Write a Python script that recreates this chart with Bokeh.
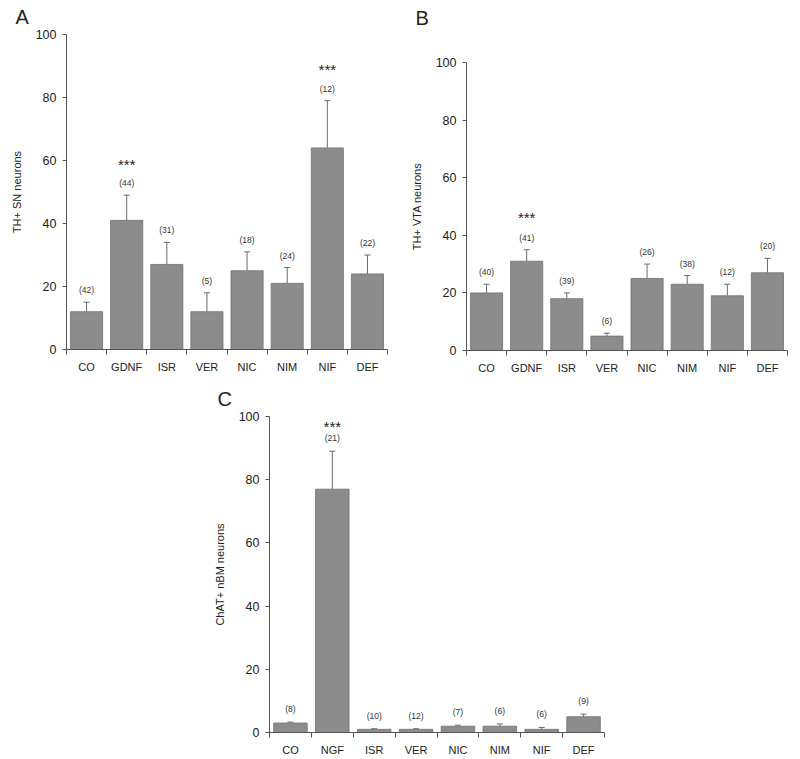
import numpy as np
from bokeh.plotting import figure
from bokeh.models import ColumnDataSource, FixedTicker, Range1d, Whisker, TeeHead, Title
from bokeh.layouts import column, row, Spacer
from bokeh.embed import file_html
from bokeh.resources import INLINE
from bokeh.core.properties import value

# ---------------- data ----------------
cats_a = ["CO", "GDNF", "ISR", "VER", "NIC", "NIM", "NIF", "DEF"]
mean_a = [12, 41, 27, 12, 25, 21, 64, 24]
err_a = [3, 8, 7, 6, 6, 5, 15, 6]
n_a = [42, 44, 31, 5, 18, 24, 12, 22]
sig_a = ["", "***", "", "", "", "", "***", ""]

cats_b = ["CO", "GDNF", "ISR", "VER", "NIC", "NIM", "NIF", "DEF"]
mean_b = [20, 31, 18, 5, 25, 23, 19, 27]
err_b = [3, 4, 2, 1, 5, 3, 4, 5]
n_b = [40, 41, 39, 6, 26, 38, 12, 20]
sig_b = ["", "***", "", "", "", "", "", ""]

cats_c = ["CO", "NGF", "ISR", "VER", "NIC", "NIM", "NIF", "DEF"]
mean_c = [3, 77, 1, 1, 2, 2, 1, 5]
err_c = [0.3, 12, 0.2, 0.2, 0.3, 0.7, 0.6, 0.8]
n_c = [8, 21, 10, 12, 7, 6, 6, 9]
sig_c = ["", "***", "", "", "", "", "", ""]

y_ticks = [0, 20, 40, 60, 80, 100]

FONT = "Liberation Sans"
BAR = "#8c8c8c"
BAR_LINE = "#707070"
AXIS = "#555555"
TXT = "#222222"


def letter_title(text, t_off, t_standoff):
    return Title(text=text, text_font=FONT, text_font_size="20px",
                 text_font_style="normal", text_color=TXT, align="left",
                 vertical_align="top", offset=t_off, standoff=t_standoff)


def panel(cats, means, errs, ns, sig, ylabel, letter, width, height,
          bl, br, bt, bb, n_off, s_off, x_standoff, t_off, t_standoff,
          gap=None):
    n = len(cats)
    xs = np.arange(n) + 0.5
    tops = np.array(means, dtype=float) + np.array(errs, dtype=float)
    src = ColumnDataSource(dict(
        x=xs, top=means, up=tops, lo=means,
        nlab=["(%d)" % v for v in ns], sig=sig,
    ))
    p = figure(width=width, height=height, output_backend="svg",
               toolbar_location=None, x_range=Range1d(0, n),
               y_range=Range1d(0, 100), min_border_left=bl,
               min_border_right=br, min_border_top=bt, min_border_bottom=bb)
    p.outline_line_color = None
    p.grid.visible = False
    p.background_fill_color = "white"
    p.border_fill_color = "white"

    if gap is None:
        p.title = letter_title(letter, t_off, t_standoff)
    else:
        # a blank spacer title nearest the frame lifts the letter up
        p.title = None
        p.add_layout(Title(text=" ", text_font=FONT, text_font_size="10px",
                           text_color="white", standoff=gap), "above")
        p.add_layout(letter_title(letter, t_off, t_standoff), "above")

    p.vbar(x="x", top="top", bottom=0, width=0.8, source=src,
           fill_color=BAR, line_color=BAR_LINE, line_width=0.8)
    w = Whisker(base="x", upper="up", lower="lo", source=src,
                line_color="#6a6a6a", line_width=1,
                upper_head=TeeHead(size=6, line_color="#6a6a6a", line_width=1),
                lower_head=None)
    p.add_layout(w)

    p.text(x="x", y="up", text="nlab", source=src, y_offset=-n_off,
           text_align="center", text_baseline="middle",
           text_font=value(FONT), text_font_size="8.5px", text_color="#333333")
    p.text(x="x", y="up", text="sig", source=src, y_offset=-s_off,
           text_align="center", text_baseline="middle",
           text_font=value(FONT), text_font_size="15px", text_color=TXT)

    # x axis: labels at centres, ticks at category boundaries
    xa = p.xaxis[0]
    xa.ticker = FixedTicker(ticks=list(xs), minor_ticks=list(range(n + 1)))
    xa.major_label_overrides = {float(x): c for x, c in zip(xs, cats)}
    xa.major_tick_out = 0
    xa.major_tick_in = 0
    xa.minor_tick_out = 5
    xa.minor_tick_in = 0
    xa.minor_tick_line_color = AXIS
    xa.axis_line_color = AXIS
    xa.major_label_standoff = x_standoff
    xa.major_label_text_font = FONT
    xa.major_label_text_font_size = "11px"
    xa.major_label_text_color = TXT

    ya = p.yaxis[0]
    ya.ticker = FixedTicker(ticks=y_ticks, minor_ticks=[])
    ya.major_tick_out = 4
    ya.major_tick_in = 0
    ya.major_tick_line_color = AXIS
    ya.axis_line_color = AXIS
    ya.major_label_standoff = 6
    ya.major_label_text_font = FONT
    ya.major_label_text_font_size = "12.5px"
    ya.major_label_text_color = TXT
    ya.axis_label = ylabel
    ya.axis_label_text_font = FONT
    ya.axis_label_text_font_size = "11px"
    ya.axis_label_text_font_style = "normal"
    ya.axis_label_text_color = TXT
    ya.axis_label_standoff = 10
    return p


pA = panel(cats_a, mean_a, err_a, n_a, sig_a, "TH+ SN neurons", "A",
           400, 380, 66, 13, 34, 31, 12, 31, 6, -51, 10)
pB = panel(cats_b, mean_b, err_b, n_b, sig_b, "TH+ VTA neurons", "B",
           400, 380, 66, 13, 62, 30, 12, 32, 6, -51, 10, gap=14)
pC = panel(cats_c, mean_c, err_c, n_c, sig_c, "ChAT+ nBM neurons", "C",
           440, 379, 89, 16, 36, 27, 13, 25, 6, -52, 10)

# B is wrapped in its own column so that its frame is not aligned with A's
layout = column(
    row(pA, column(pB)),
    row(Spacer(width=180, height=379), pC),
)

open("out.html", "w").write(file_html(layout, INLINE))
